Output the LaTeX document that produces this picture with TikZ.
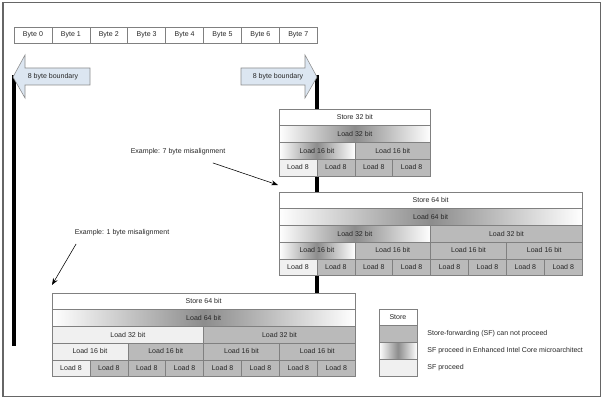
\documentclass[tikz,border=0pt]{standalone}
\usepackage{fontspec}
\setmainfont{Liberation Sans}
\usepackage{tikz}
\usepackage{color,xcolor}
\usetikzlibrary{arrows.meta,positioning,calc}

\definecolor{bndblue}{RGB}{220,230,241}
\newcommand{\bytew}{0.9475cm}
\newcommand{\rowh}{0.4175cm}

\begin{document}
\begin{tikzpicture}[
  x=0.025cm, y=-0.025cm,
  font=\fontsize{5}{6}\selectfont,
  >=Stealth,
  cell/.style={
    draw=black!50,
    line width=0.4pt,
    fill=white,
    minimum width=#1*\bytew,
    minimum height=\rowh,
    inner sep=0pt,
    outer sep=0pt,
    anchor=north west,
    text=black!85
  },
  cell/.default=1,
  nosf/.style={fill=black!27},
  grad/.style={left color=white, right color=white, middle color=black!45},
  sfok/.style={fill=black!6},
  bytecell/.style={cell=1, minimum height=0.4cm},
  bound/.style={draw=black!45, fill=bndblue, line width=0.4pt},
  wall/.style={line width=2.2pt, draw=black},
  note/.style={text=black!85, inner sep=1pt},
  pointer/.style={->, line width=0.4pt, draw=black}
]
\useasboundingbox (0,0) rectangle (604,400);

% ===== Frame =====
\draw[black!60, line width=1pt] (3,2.5) rectangle (600.5,396.5);

% ===== 8 byte boundary walls =====
\coordinate (wl-top) at (14,75);
\coordinate (wl-bot) at (14,346);
\coordinate (wr-top) at (317,75);
\coordinate (wr-bot) at (317,293);
\draw[wall] (wl-top) -- (wl-bot);
\draw[wall] (wr-top) -- (wr-bot);

% ===== Byte row =====
\node[bytecell] (byte0) at (14,27) {Byte 0};
\foreach \k in {1,...,7}
  \node[bytecell] (byte\k) at ($(byte0.north west)+(\k*37.9,0)$) {Byte \k};

% ===== Boundary arrows =====
\draw[bound] (90,68) -- (25,68) -- (25,55) -- (13,77) -- (25,98) -- (25,85) -- (90,85) -- cycle;
\node[note] (bnd-l) at (53,76.5) {8 byte boundary};
\draw[bound] (241,68) -- (305,68) -- (305,55) -- (317,77) -- (305,98) -- (305,85) -- (241,85) -- cycle;
\node[note] (bnd-r) at (278,76.5) {8 byte boundary};

% ===== Store 32 bit, 7 byte misalignment =====
\node[cell=4] (a-st) at (279,109) {Store 32 bit};
\node[cell=4, grad] (a-l32) at (a-st.south west) {Load 32 bit};
\node[cell=2, grad] (a-l16-0) at (a-l32.south west) {Load 16 bit};
\node[cell=2, nosf] (a-l16-1) at (a-l16-0.north east) {Load 16 bit};
\node[cell=1, sfok] (a-l8-0) at (a-l16-0.south west) {Load 8};
\foreach \k in {1,2,3}
  \node[cell=1, nosf] (a-l8-\k) at ($(a-l8-0.north west)+(\k*37.9,0)$) {Load 8};

% ===== Store 64 bit, 7 byte misalignment =====
\node[cell=8] (b-st) at (279,192) {Store 64 bit};
\node[cell=8, grad] (b-l64) at (b-st.south west) {Load 64 bit};
\node[cell=4, grad] (b-l32-0) at (b-l64.south west) {Load 32 bit};
\node[cell=4, nosf] (b-l32-1) at (b-l32-0.north east) {Load 32 bit};
\node[cell=2, grad] (b-l16-0) at (b-l32-0.south west) {Load 16 bit};
\foreach \k in {1,2,3}
  \node[cell=2, nosf] (b-l16-\k) at ($(b-l16-0.north west)+(2*\k*37.9,0)$) {Load 16 bit};
\node[cell=1, sfok] (b-l8-0) at (b-l16-0.south west) {Load 8};
\foreach \k in {1,...,7}
  \node[cell=1, nosf] (b-l8-\k) at ($(b-l8-0.north west)+(\k*37.9,0)$) {Load 8};

% ===== Store 64 bit, 1 byte misalignment =====
\node[cell=8] (c-st) at (52,293) {Store 64 bit};
\node[cell=8, grad] (c-l64) at (c-st.south west) {Load 64 bit};
\node[cell=4, sfok] (c-l32-0) at (c-l64.south west) {Load 32 bit};
\node[cell=4, nosf] (c-l32-1) at (c-l32-0.north east) {Load 32 bit};
\node[cell=2, sfok] (c-l16-0) at (c-l32-0.south west) {Load 16 bit};
\foreach \k in {1,2,3}
  \node[cell=2, nosf] (c-l16-\k) at ($(c-l16-0.north west)+(2*\k*37.9,0)$) {Load 16 bit};
\node[cell=1, sfok] (c-l8-0) at (c-l16-0.south west) {Load 8};
\foreach \k in {1,...,7}
  \node[cell=1, nosf] (c-l8-\k) at ($(c-l8-0.north west)+(\k*37.9,0)$) {Load 8};

% ===== Examples =====
\node[note] (ex7) at (178,152) {Example: 7 byte misalignment};
\coordinate (ex7-end) at (278,185);
\draw[pointer] ($(ex7.south east)+(-14,6)$) -- (ex7-end);

\node[note] (ex1) at (122,233) {Example: 1 byte misalignment};
\coordinate (ex1-end) at (52,285);
\draw[pointer] ($(ex1.south west)+(3,6)$) -- (ex1-end);

% ===== Legend =====
\node[cell=1] (lg-st) at (379,309) {Store};
\node[cell=1, nosf] (lg-nosf) at (lg-st.south west) {};
\node[cell=1, grad] (lg-grad) at (lg-nosf.south west) {};
\node[cell=1, sfok] (lg-ok) at (lg-grad.south west) {};
\node[note, right=0.22cm of lg-nosf.east] (lt-nosf) {Store-forwarding (SF) can not proceed};
\node[note, right=0.22cm of lg-grad.east] (lt-grad) {SF proceed in Enhanced Intel Core microarchitect};
\node[note, right=0.22cm of lg-ok.east] (lt-ok) {SF proceed};

\end{tikzpicture}
\end{document}
